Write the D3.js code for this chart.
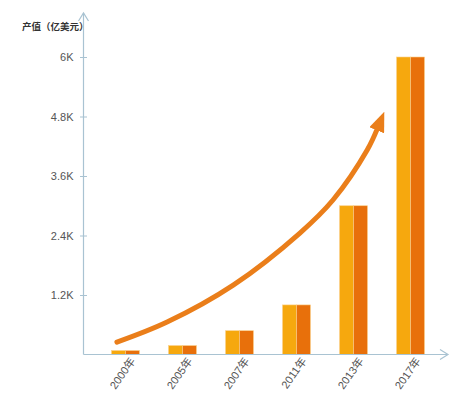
<!DOCTYPE html>
<html><head><meta charset="utf-8">
<script src="https://cdn.jsdelivr.net/npm/d3@7"></script>
<style>
html,body{margin:0;padding:0;background:#fff;}
svg{display:block;}
</style></head>
<body>
<svg id="c" width="457" height="398"></svg>
<script>
// ---- data ----
const categories = ["2000年","2005年","2007年","2011年","2013年","2017年"];
const seriesA = [80, 180, 480, 1000, 3000, 6000];
const seriesB = [80, 180, 480, 1000, 3000, 6000];
const yTicks = [0, 1200, 2400, 3600, 4800, 6000];
const yTickLabels = ["", "1.2K", "2.4K", "3.6K", "4.8K", "6K"];
const yTitle = "产值（亿美元）";
// trend arrow annotation (category index, value)
const trendIdx = [-0.15, 0.73, 1.89, 3.06, 3.64, 4.24, 4.42];
const trendVal = [250, 655, 1400, 2450, 3116, 4124, 4560];

const svg = d3.select("#c");
const axisColor = "#a9c3d2";
const colA = "#f6a80e", colB = "#e8700b", trendCol = "#ea7e1a";

const x = d3.scaleBand().domain(categories).range([83, 453]).paddingInner(0.51).paddingOuter(0.5);
const xs = d3.scaleBand().domain(["a","b"]).range([0, x.bandwidth()]);
const y = d3.scaleLinear().domain([0, 6000]).range([354.5, 57]);

// bars
const rows = categories.map((c, i) => ({c, a: seriesA[i], b: seriesB[i]}));
const g = svg.append("g");
rows.forEach(r => {
  [["a", r.a, colA], ["b", r.b, colB]].forEach(([k, v, col]) => {
    g.append("rect")
      .attr("x", x(r.c) + xs(k))
      .attr("y", y(v))
      .attr("width", xs.bandwidth())
      .attr("height", y(0) - y(v))
      .attr("fill", col)
      .attr("stroke", "#fbd08a")
      .attr("stroke-width", 0.6);
  });
});

// y axis
const yAxis = d3.axisLeft(y).tickValues(yTicks)
  .tickFormat((d, i) => yTickLabels[i]).tickSize(0).tickPadding(10);
const ya = svg.append("g").attr("transform", "translate(83.5,0)").call(yAxis);
ya.select(".domain").remove();
ya.selectAll("text").attr("fill", "#555").style("font-family", "Liberation Sans, Arial, sans-serif").style("font-size", "11px");
ya.selectAll(".tick").filter(d => d !== 0).append("line")
  .attr("x1", -3.5).attr("x2", 3.5).attr("stroke", axisColor).attr("stroke-width", 1);
svg.append("line").attr("x1", 83.5).attr("x2", 83.5).attr("y1", y(0)).attr("y2", 13)
  .attr("stroke", axisColor).attr("stroke-width", 1.2);
svg.append("path").attr("d", "M78.5,21 L83.5,13 L88.5,21").attr("fill", "none")
  .attr("stroke", axisColor).attr("stroke-width", 1.2);

// x axis
const xAxis = d3.axisBottom(x).tickSize(0).tickPadding(4);
const xa = svg.append("g").attr("transform", `translate(0,${y(0)})`).call(xAxis);
xa.select(".domain").remove();
xa.selectAll("text")
  .attr("fill", "#555")
  .style("font-family", "Liberation Sans, Arial, 'Noto Sans CJK SC', sans-serif")
  .style("font-size", "11px")
  .attr("text-anchor", "end")
  .attr("dy", "0.35em")
  .attr("transform", "translate(4,2) rotate(-55)");
svg.append("line").attr("x1", 83.5).attr("x2", 447).attr("y1", y(0)).attr("y2", y(0))
  .attr("stroke", axisColor).attr("stroke-width", 1.2);
svg.append("path").attr("d", `M440,${y(0)-5} L448,${y(0)} L440,${y(0)+5}`).attr("fill", "none")
  .attr("stroke", axisColor).attr("stroke-width", 1.2);

// y title
svg.append("text").attr("x", 22).attr("y", 30).text(yTitle)
  .attr("fill", "#333").style("font-family", "'Noto Sans CJK SC', sans-serif")
  .style("font-size", "9.5px").style("font-weight", "bold");

// trend arrow
const xi = d3.scaleLinear().domain([0, 5])
  .range([x(categories[0]) + x.bandwidth() / 2, x(categories[5]) + x.bandwidth() / 2]);
svg.append("defs").append("marker")
  .attr("id", "ah").attr("markerUnits", "userSpaceOnUse")
  .attr("viewBox", "0 -8 20 16").attr("refX", 2).attr("refY", 0)
  .attr("markerWidth", 20).attr("markerHeight", 16).attr("orient", "auto")
  .append("path").attr("d", "M0,-8 L20,0 L0,8 Z").attr("fill", trendCol);
const line = d3.line().x(d => xi(d[0])).y(d => y(d[1])).curve(d3.curveCatmullRom);
svg.append("path").datum(trendIdx.map((v, i) => [v, trendVal[i]]))
  .attr("d", line).attr("fill", "none").attr("stroke", trendCol)
  .attr("stroke-width", 5).attr("stroke-linecap", "round")
  .attr("marker-end", "url(#ah)");
</script>
</body></html>
